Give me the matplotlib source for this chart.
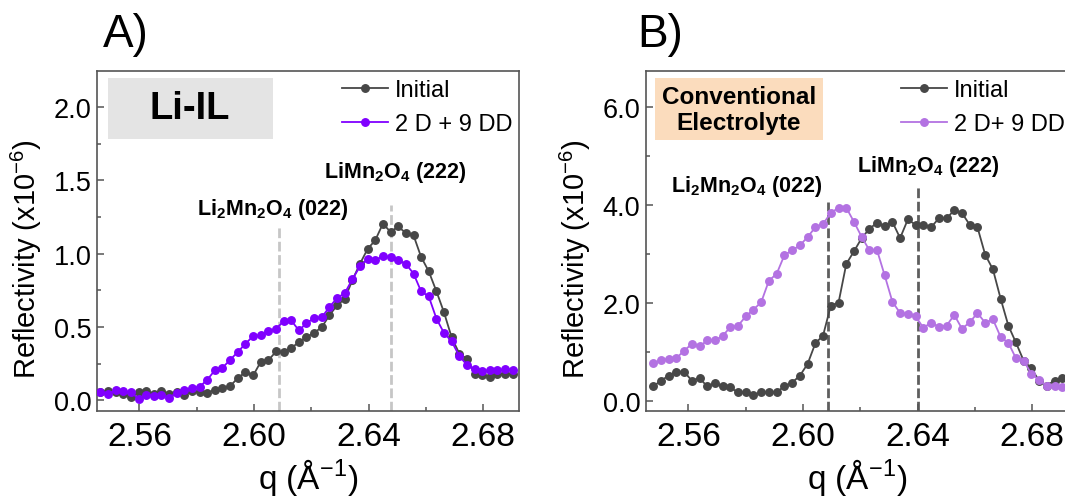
import matplotlib
matplotlib.use("Agg")
import matplotlib.pyplot as plt
from matplotlib.patches import Rectangle
from matplotlib.ticker import MultipleLocator

plt.rcParams['font.family'] = ['Liberation Sans', 'DejaVu Sans']
plt.rcParams['mathtext.fontset'] = 'custom'
plt.rcParams['mathtext.rm'] = 'Liberation Sans'
plt.rcParams['mathtext.bf'] = 'Liberation Sans:bold'
plt.rcParams['mathtext.it'] = 'Liberation Sans:italic'
plt.rcParams['mathtext.default'] = 'regular'

################################################################################
# Data
################################################################################

# Panel A : Li-IL
qA = [2.5463, 2.5490, 2.5517, 2.5543, 2.5570, 2.5597, 2.5623, 2.5650, 2.5677, 2.5703,
      2.5730, 2.5757, 2.5783, 2.5810, 2.5837, 2.5863, 2.5890, 2.5917, 2.5943, 2.5970,
      2.5997, 2.6023, 2.6050, 2.6077, 2.6103, 2.6130, 2.6157, 2.6183, 2.6210, 2.6237,
      2.6263, 2.6290, 2.6317, 2.6343, 2.6370, 2.6397, 2.6423, 2.6450, 2.6477, 2.6503,
      2.6530, 2.6557, 2.6583, 2.6610, 2.6637, 2.6663, 2.6690, 2.6717, 2.6743, 2.6770,
      2.6797, 2.6823, 2.6850, 2.6877, 2.6903]
initialA = [0.057, 0.066, 0.057, 0.045, 0.023, 0.057, 0.061, 0.045, 0.064, 0.045,
            0.057, 0.039, 0.061, 0.057, 0.050, 0.073, 0.084, 0.098, 0.152, 0.193,
            0.170, 0.261, 0.273, 0.334, 0.330, 0.357, 0.398, 0.432, 0.461, 0.500,
            0.580, 0.648, 0.693, 0.818, 0.932, 1.034, 1.091, 1.205, 1.148, 1.186,
            1.141, 1.125, 0.980, 0.880, 0.743, 0.602, 0.430, 0.318, 0.284, 0.182,
            0.175, 0.159, 0.182, 0.182, 0.182]
cycledA = [0.057, 0.045, 0.068, 0.061, 0.057, 0.011, 0.039, 0.030, 0.039, 0.018,
           0.052, 0.068, 0.084, 0.093, 0.141, 0.205, 0.223, 0.277, 0.330, 0.386,
           0.439, 0.443, 0.470, 0.489, 0.539, 0.545, 0.477, 0.527, 0.561, 0.568,
           0.636, 0.698, 0.732, 0.825, 0.914, 0.966, 0.955, 0.984, 0.977, 0.955,
           0.932, 0.864, 0.745, 0.709, 0.557, 0.461, 0.402, 0.302, 0.243, 0.211,
           0.198, 0.205, 0.205, 0.211, 0.209]

# Panel B : conventional electrolyte
qB = [2.5477, 2.5504, 2.5531, 2.5558, 2.5585, 2.5612, 2.5639, 2.5666, 2.5693, 2.5719,
      2.5746, 2.5773, 2.5800, 2.5827, 2.5854, 2.5881, 2.5908, 2.5935, 2.5962, 2.5989,
      2.6016, 2.6043, 2.6070, 2.6097, 2.6124, 2.6151, 2.6178, 2.6205, 2.6232, 2.6258,
      2.6285, 2.6312, 2.6339, 2.6366, 2.6393, 2.6420, 2.6447, 2.6474, 2.6501, 2.6528,
      2.6555, 2.6582, 2.6609, 2.6636, 2.6663, 2.6690, 2.6717, 2.6743, 2.6770, 2.6797,
      2.6824, 2.6851, 2.6878, 2.6905]
initialB = [0.29, 0.41, 0.51, 0.59, 0.59, 0.41, 0.46, 0.29, 0.36, 0.29,
            0.27, 0.17, 0.17, 0.12, 0.17, 0.17, 0.18, 0.29, 0.37, 0.51,
            0.75, 1.17, 1.33, 1.94, 2.00, 2.79, 3.05, 3.32, 3.51, 3.63,
            3.56, 3.65, 3.32, 3.70, 3.59, 3.59, 3.54, 3.72, 3.72, 3.89,
            3.83, 3.59, 3.54, 2.98, 2.68, 2.08, 1.53, 1.19, 0.82, 0.66,
            0.41, 0.31, 0.41, 0.46]
cycledB = [0.76, 0.83, 0.85, 0.87, 1.02, 1.16, 1.11, 1.23, 1.23, 1.32,
           1.50, 1.53, 1.72, 1.86, 2.01, 2.45, 2.59, 2.97, 3.07, 3.17,
           3.34, 3.54, 3.61, 3.83, 3.94, 3.94, 3.65, 3.34, 3.07, 3.08,
           2.56, 2.02, 1.79, 1.77, 1.72, 1.49, 1.59, 1.51, 1.53, 1.75,
           1.47, 1.60, 1.79, 1.59, 1.66, 1.30, 1.18, 0.87, 0.82, 0.55,
           0.42, 0.31, 0.31, 0.27]

# reference lines: (q position, top of line)
refA = [(2.6086, 1.18), (2.6478, 1.33)]
refB = [(2.6087, 4.06), (2.6400, 4.38)]

peakLabels = ['Li$_\\mathbf{2}$Mn$_\\mathbf{2}$O$_\\mathbf{4}$ (022)',
              'LiMn$_\\mathbf{2}$O$_\\mathbf{4}$ (222)']

GRAY = '#474747'
PURPLE_A = '#8000ff'
PURPLE_B = '#b372e2'
SPINE = '#555555'

################################################################################
# Figure
################################################################################
fig = plt.figure(figsize=(10.65, 5.02), dpi=100)
axA = fig.add_axes([0.0911, 0.1793, 0.3962, 0.6773])
axB = fig.add_axes([0.6066, 0.1793, 0.3962, 0.6773])

def styleAxes(ax, ylim, ymajor, yfmt):
	ax.set_xlim(2.5452, 2.6925)
	ax.set_ylim(*ylim)
	ax.xaxis.set_major_locator(MultipleLocator(0.04))
	ax.xaxis.set_minor_locator(MultipleLocator(0.02))
	ax.yaxis.set_major_locator(MultipleLocator(ymajor))
	ax.yaxis.set_minor_locator(MultipleLocator(ymajor / 2))
	ax.xaxis.set_major_formatter(matplotlib.ticker.FormatStrFormatter('%.2f'))
	ax.yaxis.set_major_formatter(matplotlib.ticker.FormatStrFormatter(yfmt))
	ax.tick_params(which='both', direction='in', color=SPINE, width=1.1)
	ax.tick_params(which='major', length=5)
	ax.tick_params(which='minor', length=3)
	ax.tick_params(axis='x', labelsize=24, pad=7)
	ax.tick_params(axis='y', labelsize=19.5, pad=4)
	for s in ax.spines.values():
		s.set_color(SPINE)
		s.set_linewidth(1.2)
	ax.set_xlabel('q (Å$^{-1}$)', fontsize=24, labelpad=3)
	ax.set_ylabel('Reflectivity (x10$^{-6}$)', fontsize=21)
	ax.yaxis.set_label_coords(-0.125, 0.45)

def drawPanel(ax, q, yInit, yCyc, cyc_color, cyc_label, refs, ref_color, ylim, ymajor):
	styleAxes(ax, ylim, ymajor, '%.1f')
	for x, top in refs:
		ax.vlines(x, ylim[0], top, colors=ref_color, linewidth=2.0,
		          linestyles=(0, (3.5, 1.3)), zorder=1)
	ax.plot(q, yInit, '-o', color=GRAY, lw=1.3, ms=5.4, label='Initial', zorder=3)
	ax.plot(q, yCyc, '-o', color=cyc_color, lw=1.3, ms=5.4, label=cyc_label, zorder=4)

drawPanel(axA, qA, initialA, cycledA, PURPLE_A, '2 D + 9 DD', refA, '#c6c6c6', (-0.072, 2.246), 0.5)
drawPanel(axB, qB, initialB, cycledB, PURPLE_B, '2 D+ 9 DD', refB, '#5e5e5e', (-0.21, 6.73), 2.0)

# peak labels
axA.text(2.6066, 1.272, peakLabels[0], fontsize=15.5, fontweight='bold', ha='center', va='baseline')
axA.text(2.6492, 1.524, peakLabels[1], fontsize=15.5, fontweight='bold', ha='center', va='baseline')
axB.text(2.5804, 4.28, peakLabels[0], fontsize=15.5, fontweight='bold', ha='center', va='baseline')
axB.text(2.6438, 4.69, peakLabels[1], fontsize=15.5, fontweight='bold', ha='center', va='baseline')

# boxed titles
axA.add_patch(Rectangle((0.026, 0.801), 0.391, 0.178, transform=axA.transAxes,
                        facecolor='#e4e4e4', edgecolor='none', zorder=2))
axA.text(0.22, 0.89, 'Li-IL', transform=axA.transAxes, fontsize=27.5, fontweight='bold',
         ha='center', va='center', zorder=5)
axB.add_patch(Rectangle((0.021, 0.798), 0.398, 0.181, transform=axB.transAxes,
                        facecolor='#fbdcbd', edgecolor='none', zorder=2))
axB.text(0.22, 0.887, 'Conventional\nElectrolyte', transform=axB.transAxes, fontsize=17.5,
         fontweight='bold', ha='center', va='center', linespacing=1.15, zorder=5)

# legends
for ax, x0 in ((axA, 0.58), (axB, 0.604)):
	ax.legend(loc='upper left', bbox_to_anchor=(x0, 0.975), frameon=False, fontsize=17,
	          numpoints=1, handlelength=1.95, handletextpad=0.3, labelspacing=0.5,
	          borderpad=0, borderaxespad=0)

fig.text(103 / 1065, 1 - 47 / 502, 'A)', fontsize=33, va='baseline', ha='left')
fig.text(637 / 1065, 1 - 47 / 502, 'B)', fontsize=33, va='baseline', ha='left')

fig.savefig('out.png', dpi=100)
